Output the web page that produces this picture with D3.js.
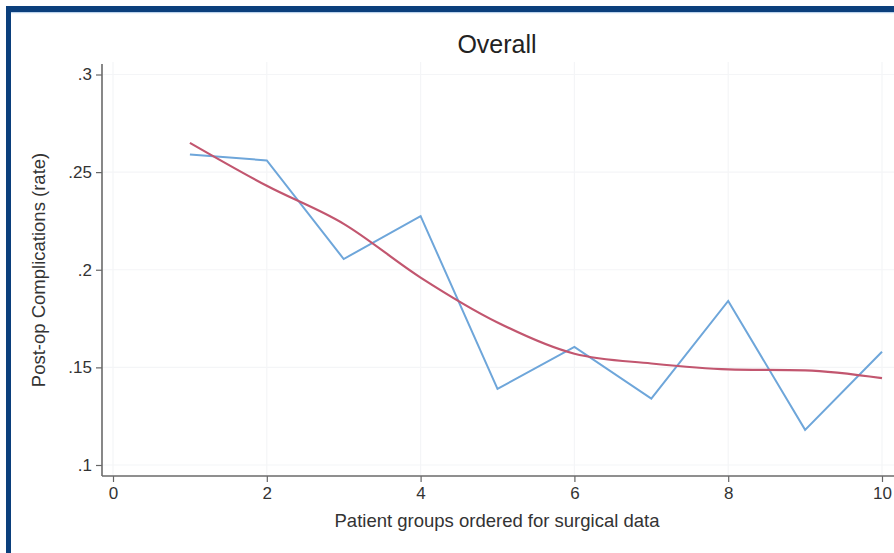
<!DOCTYPE html>
<html>
<head>
<meta charset="utf-8">
<script src="https://cdn.jsdelivr.net/npm/d3@7"></script>
<style>
  html, body { margin: 0; padding: 0; background: #ffffff; }
  svg { display: block; font-family: "Liberation Sans", Arial, sans-serif; }
</style>
</head>
<body>
<svg id="chart" width="894" height="553"></svg>
<script>
// Patient groups (x) and observed / fitted complication rates
const groups = [1, 2, 3, 4, 5, 6, 7, 8, 9, 10];
const observedRate = [0.259, 0.256, 0.2055, 0.2275, 0.139, 0.1605, 0.134, 0.184, 0.118, 0.158];
const fittedRate = [0.265, 0.243, 0.2235, 0.196, 0.173, 0.157, 0.152, 0.149, 0.1485, 0.1445];
const xTicks = [0, 2, 4, 6, 8, 10];
const yTicks = [0.1, 0.15, 0.2, 0.25, 0.3];
const yTickLabels = [".1", ".15", ".2", ".25", ".3"];

const svg = d3.select("#chart");
const W = 894, H = 553;

// Outer frame (top and left edges in dark blue)
svg.append("rect").attr("x", 0).attr("y", 0).attr("width", W).attr("height", H).attr("fill", "#ffffff");
svg.append("rect").attr("x", 6).attr("y", 6).attr("width", W).attr("height", 6).attr("fill", "#0b3f7c");
svg.append("rect").attr("x", 6).attr("y", 6).attr("width", 5).attr("height", H).attr("fill", "#0b3f7c");
svg.append("rect").attr("x", 11).attr("y", 12).attr("width", W).attr("height", 1.2).attr("fill", "#bcd3ec");

const x = d3.scaleLinear().domain([0, 10]).range([113, 882]);
const y = d3.scaleLinear().domain([0.1, 0.3]).range([465, 74.5]);
const axisX0 = 102, axisY0 = 476;

// Gridlines (very faint)
const grid = svg.append("g").attr("stroke", "#f4f5f7").attr("stroke-width", 1.2);
yTicks.forEach(v => grid.append("line")
  .attr("x1", axisX0 + 1).attr("x2", W).attr("y1", y(v)).attr("y2", y(v)));
xTicks.forEach(v => grid.append("line")
  .attr("x1", x(v)).attr("x2", x(v)).attr("y1", 62).attr("y2", axisY0 - 1));

// Axes
const xAxis = d3.axisBottom(x).tickValues(xTicks).tickSize(6).tickPadding(5);
const yAxis = d3.axisLeft(y).tickValues(yTicks).tickSize(6).tickPadding(4)
  .tickFormat((d, i) => yTickLabels[i]);

const gx = svg.append("g").attr("transform", `translate(0,${axisY0})`).call(xAxis);
const gy = svg.append("g").attr("transform", `translate(${axisX0},0)`).call(yAxis);
[gx, gy].forEach(g => {
  g.select(".domain").remove();
  g.selectAll(".tick line").attr("stroke", "#666").attr("stroke-width", 1.2);
  g.selectAll(".tick text").attr("fill", "#333").attr("font-size", 17)
    .attr("font-family", "Liberation Sans, Arial, sans-serif");
});
svg.append("line").attr("x1", axisX0).attr("x2", W).attr("y1", axisY0).attr("y2", axisY0)
  .attr("stroke", "#6a6a6a").attr("stroke-width", 1.6);
svg.append("line").attr("x1", axisX0).attr("x2", axisX0).attr("y1", 64).attr("y2", axisY0)
  .attr("stroke", "#6a6a6a").attr("stroke-width", 1.6);

// Series
const line = d3.line().x((d, i) => x(groups[i])).y(d => y(d));
svg.append("path").datum(observedRate).attr("d", line)
  .attr("fill", "none").attr("stroke", "#6ea6da").attr("stroke-width", 2)
  .attr("stroke-linejoin", "miter");
svg.append("path").datum(fittedRate).attr("d", line.curve(d3.curveMonotoneX))
  .attr("fill", "none").attr("stroke", "#c2566f").attr("stroke-width", 2.2);

// Titles
svg.append("text").attr("x", 497).attr("y", 53).attr("text-anchor", "middle")
  .attr("font-size", 25).attr("fill", "#222").text("Overall");
svg.append("text").attr("x", 497).attr("y", 527).attr("text-anchor", "middle")
  .attr("font-size", 18.5).attr("fill", "#333").text("Patient groups ordered for surgical data");
svg.append("text").attr("transform", "translate(45,270) rotate(-90)").attr("text-anchor", "middle")
  .attr("font-size", 18.5).attr("fill", "#333").text("Post-op Complications (rate)");
</script>
</body>
</html>
